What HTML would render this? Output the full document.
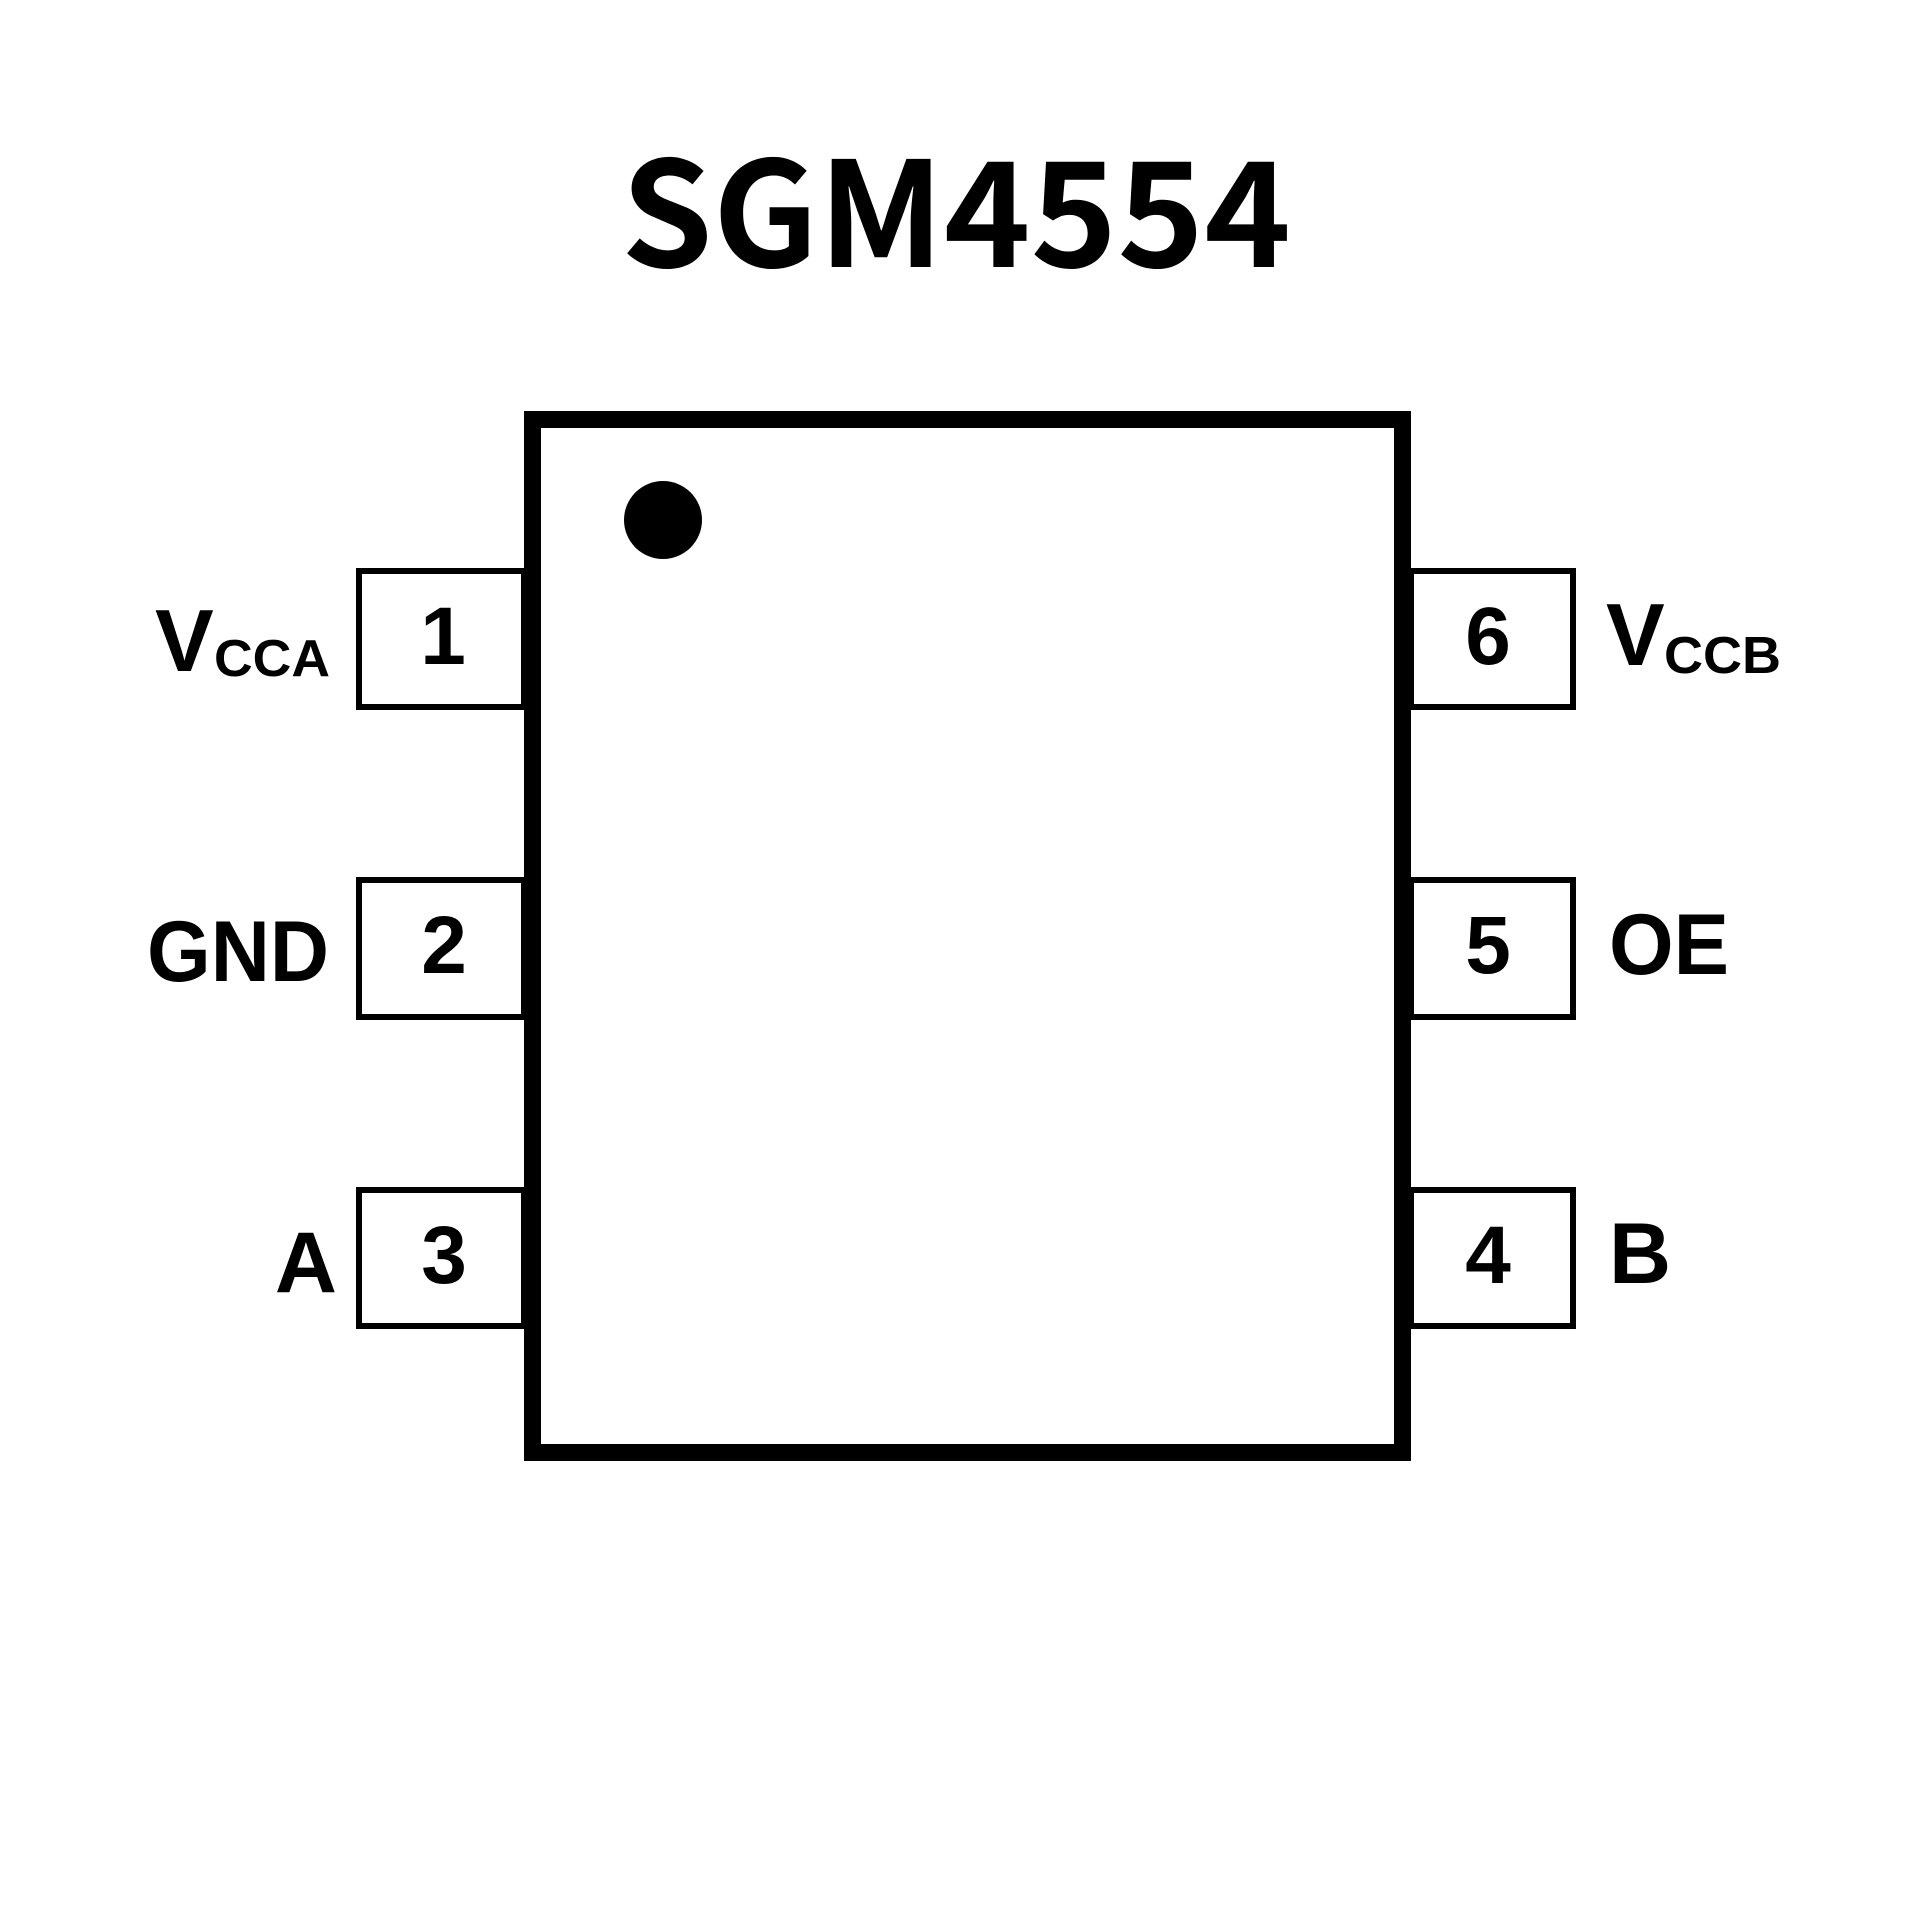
<!DOCTYPE html>
<html><head><meta charset="utf-8"><style>html,body{margin:0;padding:0;background:#fff}svg{display:block}</style></head>
<body>
<svg width="1920" height="1920" viewBox="0 0 1920 1920" xmlns="http://www.w3.org/2000/svg">
<rect width="1920" height="1920" fill="#fff"/>
<text x="621" y="267" font-family="Noto Sans CJK SC, DejaVu Sans, sans-serif" font-weight="bold" font-size="146" textLength="670" lengthAdjust="spacingAndGlyphs">SGM4554</text>
<rect x="532.5" y="419.5" width="870" height="1033" fill="none" stroke="#000" stroke-width="17"/>
<circle cx="663" cy="520" r="39" fill="#000"/>
<g fill="none" stroke="#000" stroke-width="6">
<rect x="359" y="571" width="165" height="136"/>
<rect x="359" y="880" width="165" height="137"/>
<rect x="359" y="1190" width="165" height="136"/>
<rect x="1411" y="571" width="162" height="136"/>
<rect x="1411" y="880" width="162" height="137"/>
<rect x="1411" y="1190" width="162" height="136"/>
</g>
<g font-family="Liberation Sans, Arial, sans-serif" font-weight="bold" font-size="82" text-anchor="middle">
<text x="443" y="664">1</text>
<text x="444" y="973">2</text>
<text x="444" y="1283">3</text>
<text x="1488" y="664">6</text>
<text x="1488" y="973">5</text>
<text x="1488" y="1283">4</text>
</g>
<g font-family="Liberation Sans, Arial, sans-serif" font-weight="bold">
<text x="155" y="671" font-size="88">V</text>
<text x="214" y="676" font-size="52" textLength="116" lengthAdjust="spacingAndGlyphs">CCA</text>
<text x="147" y="981" font-size="86" textLength="182" lengthAdjust="spacingAndGlyphs">GND</text>
<text x="337" y="1292" font-size="86" text-anchor="end">A</text>
<text x="1606" y="665" font-size="88">V</text>
<text x="1664" y="673" font-size="52" textLength="117" lengthAdjust="spacingAndGlyphs">CCB</text>
<text x="1609" y="974" font-size="86" textLength="120" lengthAdjust="spacingAndGlyphs">OE</text>
<text x="1609" y="1283" font-size="86">B</text>
</g>
</svg>
</body></html>
